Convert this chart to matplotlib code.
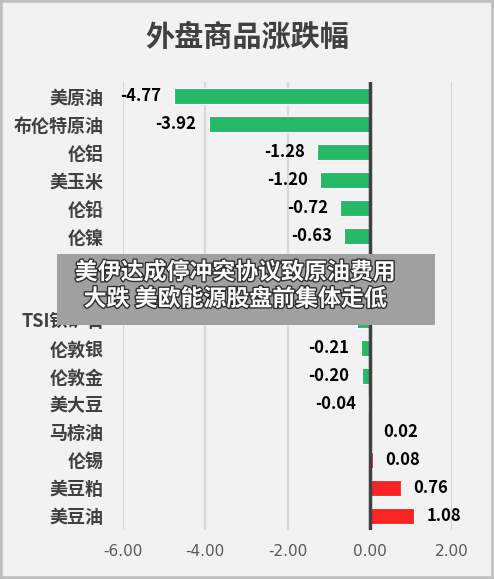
import matplotlib.pyplot as plt
import matplotlib.patches as patches
import matplotlib.patheffects as pe

plt.rcParams['font.family'] = ['Noto Sans CJK SC', 'DejaVu Sans']

# top to bottom; two rows are covered by the banner, so their names/values are guesses
names  = ['美原油', '布伦特原油', '伦铝', '美玉米', '伦铅', '伦镍', '伦铜', '伦锌',
          'TSI铁矿石', '伦敦银', '伦敦金', '美大豆', '马棕油', '伦锡', '美豆粕', '美豆油']
values = [-4.77, -3.92, -1.28, -1.20, -0.72, -0.63, -0.55, -0.42,
          -0.30, -0.21, -0.20, -0.04, 0.02, 0.08, 0.76, 1.08]
xticks = [-6, -4, -2, 0, 2]
title  = '外盘商品涨跌幅'
banner = '美伊达成停冲突协议致原油费用\n大跌 美欧能源股盘前集体走低'

GREEN = '#25b967'
RED   = '#fb2424'
BG    = '#f2f2f2'

fig = plt.figure(figsize=(4.94, 5.79), dpi=100, facecolor=BG)
ax = fig.add_axes([0.249, 0.085, 0.666, 0.773], facecolor=BG)

ypos = list(range(len(names)))
colors = [GREEN if v < 0 else RED for v in values]
ax.barh(ypos, values, height=0.58, color=colors, edgecolor='white', linewidth=0.8, zorder=3)

for y, v in zip(ypos, values):
    if v < 0:
        ax.text(v - 0.3, y, f'{v:.2f}', ha='right', va='center', fontsize=12,
                fontweight='bold', color='black', zorder=4)
    else:
        ax.text(v + 0.3, y, f'{v:.2f}', ha='left', va='center', fontsize=12,
                fontweight='bold', color='black', zorder=4)

ax.set_xlim(-6, 2)
ax.set_ylim(len(names) - 0.5, -0.5)
ax.set_xticks(xticks)
ax.set_xticklabels([f'{t:.2f}' for t in xticks], fontsize=11, color='#595959',
                   family=['DejaVu Sans'])
ax.set_yticks(ypos)
ax.set_yticklabels(names, fontsize=13, fontweight='bold', color='#404040')
ax.tick_params(length=0, pad=14)
ax.tick_params(axis='x', pad=10)
for s in ax.spines.values():
    s.set_visible(False)
ax.grid(axis='x', color='#d9d9d9', linewidth=1.6, zorder=0)
ax.axvline(0, color='#404040', linewidth=2.5, zorder=5)

fig.text(0.5, 0.936, title, ha='center', va='center', fontsize=21,
         fontweight='bold', color='#404040')

# banner box over the middle rows
fig.patches.append(patches.Rectangle((57 / 494, 1 - 325 / 579), 378 / 494, 71 / 579,
                                     transform=fig.transFigure, facecolor='#a0a0a0',
                                     edgecolor='none', zorder=10))
fig.text(235 / 494, 1 - 286 / 579, banner, ha='center', va='center', fontsize=16.5,
         fontweight='bold', color='white', linespacing=1.2, zorder=11,
         path_effects=[pe.withStroke(linewidth=2, foreground='#303030')])

# outer frame
fig.patches.append(patches.Rectangle((0, 0), 1, 1, transform=fig.transFigure,
                                     fill=False, edgecolor='#bfbfbf', linewidth=4))

fig.savefig('out.png', dpi=100, facecolor=BG)
